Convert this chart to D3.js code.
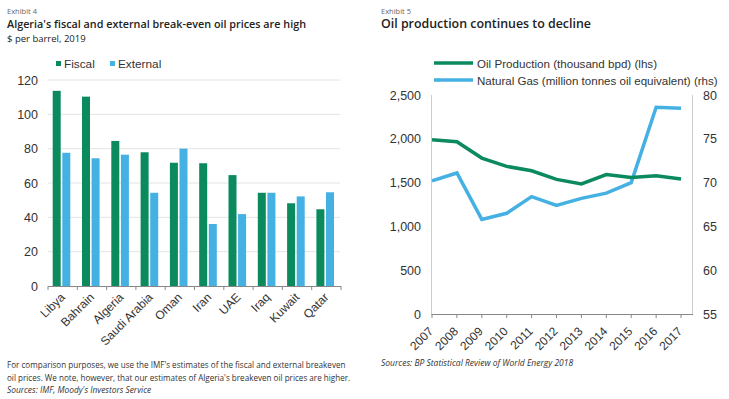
<!DOCTYPE html>
<html>
<head>
<meta charset="utf-8">
<script src="https://cdn.jsdelivr.net/npm/d3@7"></script>
<style>
  body { margin: 0; background: #fff; }
  svg text { font-family: "Liberation Sans", Arial, sans-serif; fill: #333; }
  .hdr { font-family: "Open Sans", sans-serif !important; }
</style>
</head>
<body>
<svg id="chart" width="729" height="399"></svg>
<script>
// Exhibit 4 data
const countries = ['Libya', 'Bahrain', 'Algeria', 'Saudi Arabia', 'Oman', 'Iran', 'UAE', 'Iraq', 'Kuwait', 'Qatar'];
const fiscal = [113.7, 110.3, 84.5, 77.9, 71.8, 71.5, 64.6, 54.3, 48.2, 44.7];
const external = [77.6, 74.4, 76.5, 54.3, 80, 36.1, 41.9, 54.3, 52.2, 54.6];
const barTicks = [0, 20, 40, 60, 80, 100, 120];

// Exhibit 5 data
const years = [2007, 2008, 2009, 2010, 2011, 2012, 2013, 2014, 2015, 2016, 2017];
const oilProd = [1990, 1967, 1780, 1685, 1635, 1537, 1485, 1592, 1558, 1577, 1541];
const natGas = [70.2, 71.1, 65.8, 66.5, 68.4, 67.4, 68.2, 68.8, 70.0, 78.6, 78.5];
const oilTicks = [0, 500, 1000, 1500, 2000, 2500];
const gasTicks = [55, 60, 65, 70, 75, 80];

const green = '#0b8a5e';
const blue = '#45b1e3';

const svg = d3.select('#chart');

// headers
function header(x, exhibit, title, titleSize, sub) {
  svg.append('text').attr('class', 'hdr').attr('x', x).attr('y', 14)
    .style('font-size', '7.5px').style('fill', '#666').text(exhibit);
  svg.append('text').attr('class', 'hdr').attr('x', x).attr('y', 28)
    .style('font-size', titleSize).style('font-weight', 600).style('fill', '#222').text(title);
  if (sub) {
    svg.append('text').attr('class', 'hdr').attr('x', x).attr('y', 42)
      .style('font-size', '9.5px').style('fill', '#222').text(sub);
  }
}
header(7, 'Exhibit 4', "Algeria's fiscal and external break-even oil prices are high", '10.8px', '$ per barrel, 2019');
header(381, 'Exhibit 5', 'Oil production continues to decline', '12.4px');

// ---------- Exhibit 4: grouped bars ----------
const x0 = d3.scaleBand().domain(countries).range([48, 341]).paddingInner(0).paddingOuter(0);
const y = d3.scaleLinear().domain([0, 120]).range([286, 80]);

const g1 = svg.append('g');

g1.selectAll('line.grid').data(barTicks.slice(1)).join('line')
  .attr('x1', 48).attr('x2', 340)
  .attr('y1', d => y(d)).attr('y2', d => y(d))
  .attr('stroke', '#e4e4e4').attr('stroke-width', 1);

g1.selectAll('text.ytick').data(barTicks).join('text')
  .attr('x', 38).attr('y', d => y(d) + 4.5)
  .attr('text-anchor', 'end').style('font-size', '12.5px').text(d => d);

const barW = 8;
const groups = g1.selectAll('g.grp').data(countries).join('g')
  .attr('transform', d => `translate(${x0(d)},0)`);
groups.append('rect')
  .attr('x', 4.7).attr('width', barW)
  .attr('y', (d, i) => y(fiscal[i])).attr('height', (d, i) => y(0) - y(fiscal[i]))
  .attr('fill', green);
groups.append('rect')
  .attr('x', 14.3).attr('width', barW)
  .attr('y', (d, i) => y(external[i])).attr('height', (d, i) => y(0) - y(external[i]))
  .attr('fill', blue);

// bottom axis
g1.append('line').attr('x1', 48).attr('x2', 341).attr('y1', 286.5).attr('y2', 286.5)
  .attr('stroke', '#888');
const bounds = countries.map(c => x0(c)).concat([341]);
g1.selectAll('line.tk').data(bounds).join('line')
  .attr('x1', d => d).attr('x2', d => d).attr('y1', 286).attr('y2', 290)
  .attr('stroke', '#888');
g1.selectAll('text.xl').data(countries).join('text')
  .attr('transform', d => `translate(${x0(d) + x0.bandwidth() / 2 + 3},${298}) rotate(-45)`)
  .attr('text-anchor', 'end').style('font-size', '12px').text(d => d);

// legend
const leg1 = [{ k: 'Fiscal', c: green, x: 56 }, { k: 'External', c: blue, x: 110 }];
leg1.forEach(l => {
  g1.append('rect').attr('x', l.x).attr('y', 61).attr('width', 5).attr('height', 5).attr('fill', l.c);
  g1.append('text').attr('x', l.x + 8).attr('y', 68).style('font-size', '11.8px').text(l.k);
});

// footnote
const foot1 = [
  'For comparison purposes, we use the IMF\'s estimates of the fiscal and external breakeven',
  'oil prices. We note, however, that our estimates of Algeria\'s breakeven oil prices are higher.'
];
foot1.forEach((t, i) => {
  svg.append('text').attr('class', 'hdr').attr('x', 7).attr('y', 368 + i * 12.5)
    .style('font-size', '8.1px').text(t);
});
svg.append('text').attr('class', 'hdr').attr('x', 7).attr('y', 393)
  .style('font-size', '8.4px').style('font-style', 'italic').text('Sources: IMF, Moody\'s Investors Service');

// ---------- Exhibit 5: dual-axis lines ----------
const xl = d3.scaleLinear().domain([2007, 2017.48]).range([432, 693]);
const yl = d3.scaleLinear().domain([0, 2500]).range([314, 95]);
const yr = d3.scaleLinear().domain([55, 80]).range([314, 95]);

const g2 = svg.append('g');
g2.append('line').attr('x1', 431.5).attr('x2', 431.5).attr('y1', 95).attr('y2', 314).attr('stroke', '#ccc');
g2.append('line').attr('x1', 692.5).attr('x2', 692.5).attr('y1', 95).attr('y2', 314).attr('stroke', '#ccc');
g2.append('line').attr('x1', 431.5).attr('x2', 693).attr('y1', 314.5).attr('y2', 314.5).attr('stroke', '#888');
g2.selectAll('line.tk').data(years).join('line')
  .attr('x1', d => xl(d)).attr('x2', d => xl(d)).attr('y1', 314).attr('y2', 318).attr('stroke', '#888');

g2.selectAll('text.yl').data(oilTicks).join('text')
  .attr('x', 421).attr('y', d => yl(d) + 4.5).attr('text-anchor', 'end')
  .style('font-size', '12.5px').text(d3.format(','));
g2.selectAll('text.yr').data(gasTicks).join('text')
  .attr('x', 703).attr('y', d => yr(d) + 4.5)
  .style('font-size', '12.5px').text(d => d);

g2.selectAll('text.xl').data(years).join('text')
  .attr('transform', d => `translate(${xl(d) + 2},${332}) rotate(-45)`)
  .attr('text-anchor', 'end').style('font-size', '12px').text(d => d);

const lineOil = d3.line().x((d, i) => xl(years[i])).y(d => yl(d));
const lineGas = d3.line().x((d, i) => xl(years[i])).y(d => yr(d));
g2.append('path').datum(natGas).attr('d', lineGas)
  .attr('fill', 'none').attr('stroke', blue).attr('stroke-width', 3.5);
g2.append('path').datum(oilProd).attr('d', lineOil)
  .attr('fill', 'none').attr('stroke', green).attr('stroke-width', 3.5);

// legend - fit each label to the width it takes in the original
const leg2 = [
  { k: 'Oil Production (thousand bpd) (lhs)', c: green, y: 63, w: 180 },
  { k: 'Natural Gas (million tonnes oil equivalent) (rhs)', c: blue, y: 80, w: 241 }
];
leg2.forEach(l => {
  g2.append('line').attr('x1', 434).attr('x2', 473).attr('y1', l.y).attr('y2', l.y)
    .attr('stroke', l.c).attr('stroke-width', 3.5);
  const t = g2.append('text').attr('x', 477).attr('y', l.y + 4.5).style('font-size', '13px').text(l.k);
  const len = t.node().getComputedTextLength();
  if (len > l.w) t.style('font-size', (13 * l.w / len).toFixed(2) + 'px');
});

svg.append('text').attr('class', 'hdr').attr('x', 381).attr('y', 366)
  .style('font-size', '8.5px').style('font-style', 'italic').text('Sources: BP Statistical Review of World Energy 2018');
</script>
</body>
</html>
